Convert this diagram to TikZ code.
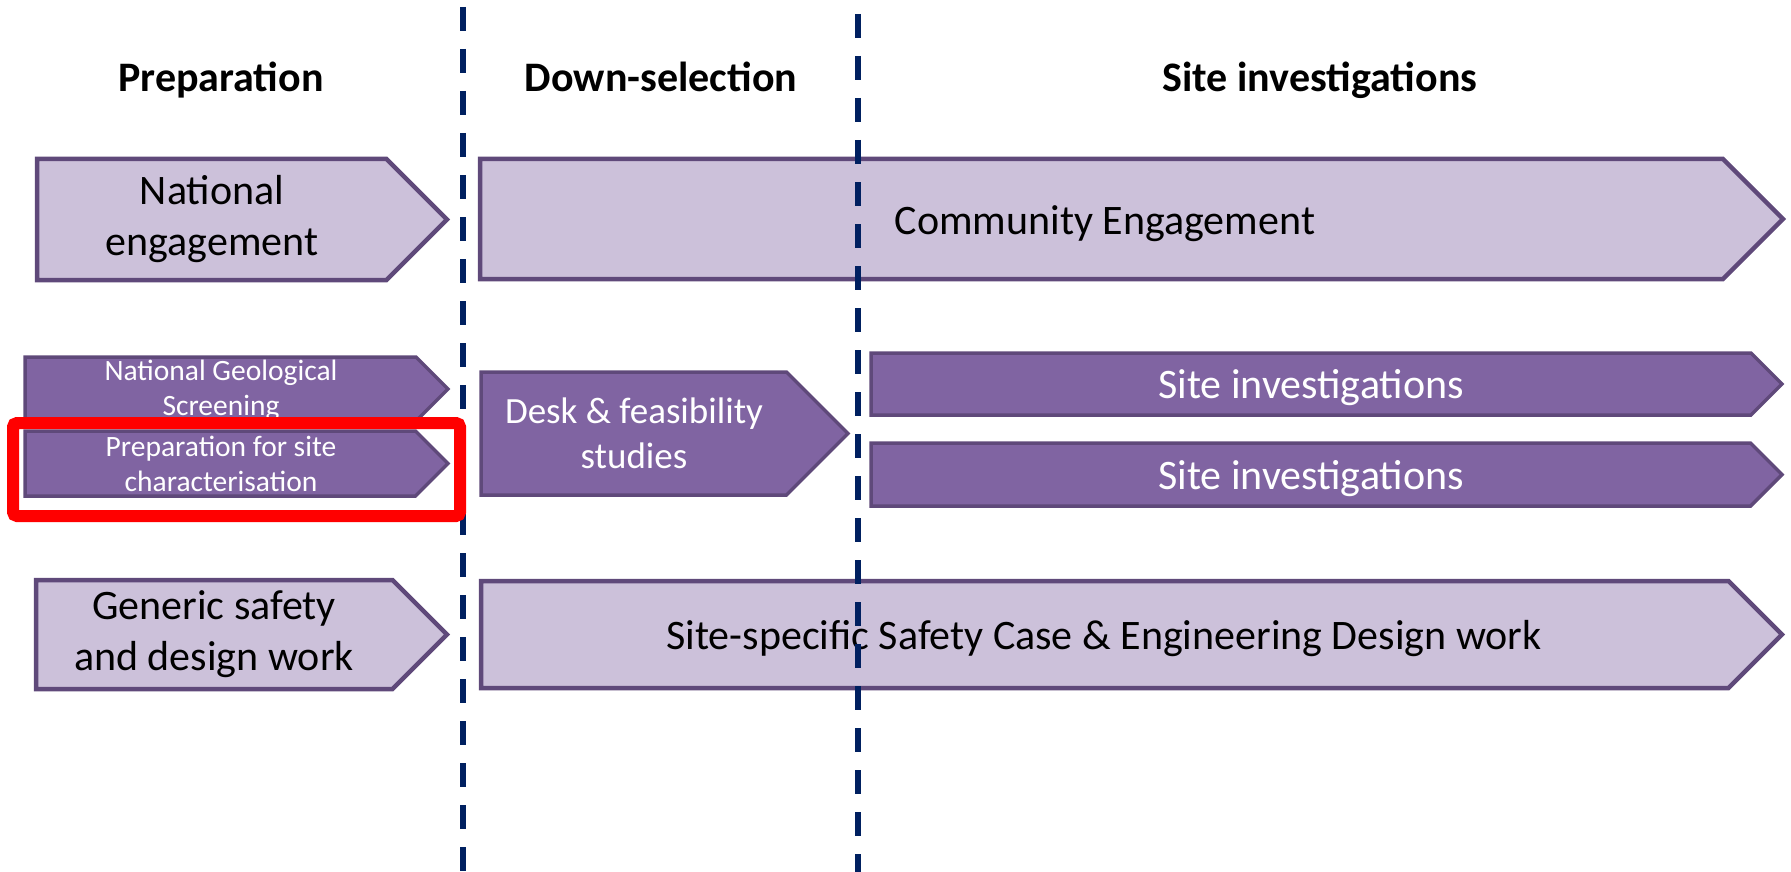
\documentclass[tikz,border=0pt]{standalone}
\usepackage{fontspec}
\setmainfont{Carlito}
\definecolor{lightfill}{HTML}{CCC1DA}
\definecolor{darkfill}{HTML}{8064A2}
\definecolor{edgepurple}{HTML}{5F497A}
\definecolor{navyline}{HTML}{002060}
\newcommand{\chev}[5]{\draw[#1] (#2,#3) -- ({#4-(#5-#3)/2},#3) -- (#4,{(#3+#5)/2}) -- ({#4-(#5-#3)/2},#5) -- (#2,#5) -- cycle;}
\tikzset{
  lightchev/.style={fill=lightfill, draw=edgepurple, line width=4.5pt, line join=miter},
  darkchev/.style={fill=darkfill, draw=edgepurple, line width=3.5pt, line join=miter},
  bigtext/.style={font=\fontsize{42}{51}\selectfont, align=center, text=black, inner sep=0pt},
  bigwhite/.style={font=\fontsize{42}{51}\selectfont, align=center, text=white, inner sep=0pt},
  deskwhite/.style={font=\fontsize{37}{45}\selectfont, align=center, text=white, inner sep=0pt},
  smalltext/.style={font=\fontsize{29.5}{35}\selectfont, align=center, text=white, inner sep=0pt},
  head/.style={font=\bfseries\fontsize{42}{51}\selectfont, anchor=base, inner sep=0pt},
  divider/.style={draw=navyline, line width=6pt, dash pattern=on 24pt off 18pt},
  highlight/.style={draw=red, line width=12pt, rounded corners=4pt}
}
\begin{document}
\begin{tikzpicture}[x=1pt,y=-1pt]
\useasboundingbox (0,0) rectangle (1791,872);
% headers
\node[head] (hprep) at (221,92) {Preparation};
\node[head] (hdown) at (661,92) {Down-selection};
\node[head] (hsite) at (1320,92) {Site investigations};
% row 1
\chev{lightchev}{37}{159}{447}{280}
\node[bigtext] (tne) at (212,219.5) {National\\engagement};
\chev{lightchev}{480}{159}{1783}{279}
\node[bigtext, anchor=base] (tce) at (1105,234) {Community Engagement};
% row 2
\chev{darkchev}{25}{357}{448}{421}
\node[smalltext] (tngs) at (221,390) {National Geological\\Screening};
\chev{darkchev}{25}{431}{448}{496}
\node[smalltext] (tprep) at (221,464) {Preparation for site\\characterisation};
\chev{darkchev}{481}{372}{848}{495}
\node[deskwhite] (tdesk) at (634,433.5) {Desk \& feasibility\\studies};
\chev{darkchev}{871}{353}{1782}{415}
\node[bigwhite, anchor=base] (tsi1) at (1311,398) {Site investigations};
\chev{darkchev}{871}{443}{1782}{506}
\node[bigwhite, anchor=base] (tsi2) at (1311,489) {Site investigations};
% row 3
\chev{lightchev}{36}{580}{447}{689}
\node[bigtext] (tgen) at (214,634.5) {Generic safety\\and design work};
\chev{lightchev}{481}{581}{1782}{688}
\node[bigtext, anchor=base] (tss) at (1104,649) {Site-specific Safety Case \& Engineering Design work};
% dividers
\coordinate (d1top) at (463,7);
\coordinate (d1bot) at (463,872);
\coordinate (d2top) at (858,14);
\coordinate (d2bot) at (858,872);
\draw[divider] (d1top) -- (d1bot);
\draw[divider] (d2top) -- (d2bot);
% highlight
\draw[highlight] (13,423) rectangle (460,516);
\end{tikzpicture}
\end{document}
